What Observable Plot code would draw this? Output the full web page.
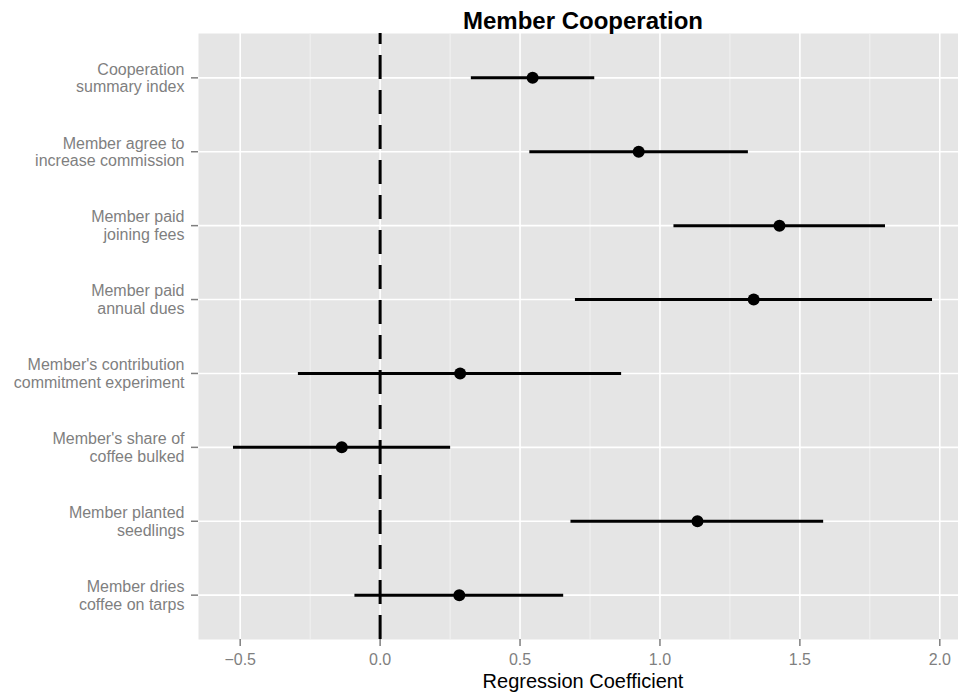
<!DOCTYPE html>
<html><head><meta charset="utf-8">
<script src="https://cdn.jsdelivr.net/npm/d3@7"></script>
<script src="https://cdn.jsdelivr.net/npm/@observablehq/plot@0.6"></script>
<style>
html,body{margin:0;padding:0;background:#fff;overflow:hidden;}
#chart svg{max-width:none !important;display:block;}
</style></head>
<body><div id="chart"></div>
<script>
const outcomes = [
  "Cooperation\nsummary index",
  "Member agree to\nincrease commission",
  "Member paid\njoining fees",
  "Member paid\nannual dues",
  "Member's contribution\ncommitment experiment",
  "Member's share of\ncoffee bulked",
  "Member planted\nseedlings",
  "Member dries\ncoffee on tarps"
];
const estimates = [0.545, 0.924, 1.427, 1.335, 0.286, -0.137, 1.134, 0.283];
const lowerCI  = [0.326, 0.535, 1.050, 0.698, -0.292, -0.524, 0.682, -0.090];
const upperCI  = [0.767, 1.316, 1.806, 1.974, 0.863, 0.252, 1.585, 0.656];
const xTicks = [-0.5, 0, 0.5, 1, 1.5, 2];
const xMinorTicks = [-0.25, 0.25, 0.75, 1.25, 1.75];
const xDomain = [-0.649, 2.099];
const titleText = "Member Cooperation";
const xLabel = "Regression Coefficient";

const rows = outcomes.map((label, i) => ({label, est: estimates[i], lo: lowerCI[i], hi: upperCI[i]}));
const font = "'Liberation Sans', Arial, Helvetica, sans-serif";
const fmt = d3.format(".1f");

const chart = Plot.plot({
  width: 967, height: 694,
  marginLeft: 198, marginRight: 0, marginTop: 33, marginBottom: 55,
  style: {fontFamily: font, background: "white", maxWidth: "none", overflow: "hidden"},
  x: {domain: xDomain},
  y: {type: "point", domain: outcomes, padding: 0.6, round: false},
  marks: [
    Plot.frame({fill: "#E5E5E5", stroke: null}),
    Plot.gridX(xMinorTicks, {stroke: "#F2F2F2", strokeOpacity: 1, strokeWidth: 1}),
    Plot.gridX(xTicks, {stroke: "white", strokeOpacity: 1, strokeWidth: 1.6}),
    Plot.gridY(outcomes, {stroke: "white", strokeOpacity: 1, strokeWidth: 1.6}),
    Plot.axisX(xTicks, {tickSize: 7, tickPadding: 7, stroke: "#7F7F7F", strokeWidth: 1.5, fill: "#7F7F7F", fontSize: 16, label: null, tickFormat: fmt}),
    Plot.axisY(outcomes, {tickSize: 7, tickFormat: () => "", stroke: "#7F7F7F", strokeWidth: 1.5, label: null}),
    Plot.text(outcomes, {y: d => d, frameAnchor: "left", dx: -14, textAnchor: "end", lineHeight: 1.1, fontSize: 16, fill: "#7F7F7F"}),
    Plot.ruleY(rows, {y: "label", x1: "lo", x2: "hi", stroke: "black", strokeWidth: 3}),
    Plot.ruleX([0], {stroke: "black", strokeWidth: 3, strokeDasharray: "24 11", strokeDashoffset: 13}),
    Plot.dot(rows, {x: "est", y: "label", r: 6, fill: "black"}),
    Plot.text([titleText], {frameAnchor: "top", lineAnchor: "bottom", dy: -5, fontSize: 24, fontWeight: "bold", fill: "black"}),
    Plot.text([xLabel], {frameAnchor: "bottom", lineAnchor: "bottom", dy: 48, fontSize: 20, fill: "black"})
  ]
});
document.getElementById("chart").appendChild(chart);
</script>
</body></html>
